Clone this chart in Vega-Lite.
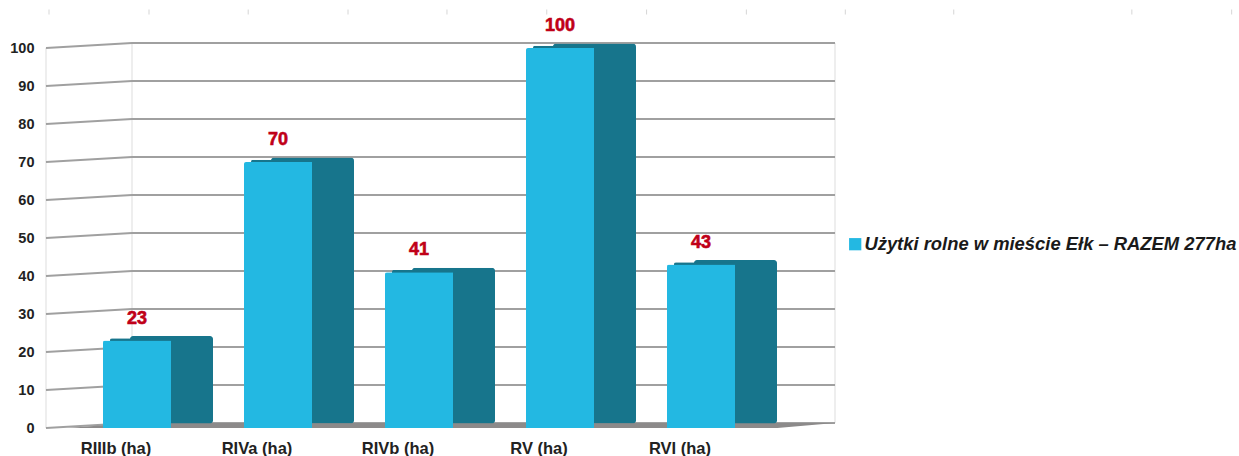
{
  "$schema": "https://vega.github.io/schema/vega-lite/v6.json",
  "width": 789,
  "height": 380,
  "padding": {"left": 46, "top": 48, "right": 404, "bottom": 28},
  "autosize": {"type": "none"},
  "background": "white",
  "view": {"stroke": null},
  "datasets": {
    "bars": [
      {"klasa": "RIIIb (ha)", "ha": 23, "seria": "Użytki rolne w mieście Ełk – RAZEM 277ha"},
      {"klasa": "RIVa (ha)", "ha": 70, "seria": "Użytki rolne w mieście Ełk – RAZEM 277ha"},
      {"klasa": "RIVb (ha)", "ha": 41, "seria": "Użytki rolne w mieście Ełk – RAZEM 277ha"},
      {"klasa": "RV (ha)", "ha": 100, "seria": "Użytki rolne w mieście Ełk – RAZEM 277ha"},
      {"klasa": "RVI (ha)", "ha": 43, "seria": "Użytki rolne w mieście Ełk – RAZEM 277ha"}
    ],
    "walls": [
      {"g": 0, "p": 0, "v": 0}, {"g": 0, "p": 1, "v": 1.3}, {"g": 0, "p": 9.17, "v": 1.3},
      {"g": 10, "p": 0, "v": 10}, {"g": 10, "p": 1, "v": 11.3}, {"g": 10, "p": 9.17, "v": 11.3},
      {"g": 20, "p": 0, "v": 20}, {"g": 20, "p": 1, "v": 21.3}, {"g": 20, "p": 9.17, "v": 21.3},
      {"g": 30, "p": 0, "v": 30}, {"g": 30, "p": 1, "v": 31.3}, {"g": 30, "p": 9.17, "v": 31.3},
      {"g": 40, "p": 0, "v": 40}, {"g": 40, "p": 1, "v": 41.3}, {"g": 40, "p": 9.17, "v": 41.3},
      {"g": 50, "p": 0, "v": 50}, {"g": 50, "p": 1, "v": 51.3}, {"g": 50, "p": 9.17, "v": 51.3},
      {"g": 60, "p": 0, "v": 60}, {"g": 60, "p": 1, "v": 61.3}, {"g": 60, "p": 9.17, "v": 61.3},
      {"g": 70, "p": 0, "v": 70}, {"g": 70, "p": 1, "v": 71.3}, {"g": 70, "p": 9.17, "v": 71.3},
      {"g": 80, "p": 0, "v": 80}, {"g": 80, "p": 1, "v": 81.3}, {"g": 80, "p": 9.17, "v": 81.3},
      {"g": 90, "p": 0, "v": 90}, {"g": 90, "p": 1, "v": 91.3}, {"g": 90, "p": 9.17, "v": 91.3},
      {"g": 100, "p": 0, "v": 100}, {"g": 100, "p": 1, "v": 101.3}, {"g": 100, "p": 9.17, "v": 101.3}
    ],
    "posts": [
      {"g": "a", "p": 0, "v": 0}, {"g": "a", "p": 0, "v": 100},
      {"g": "b", "p": 1, "v": 1.3}, {"g": "b", "p": 1, "v": 101.3},
      {"g": "c", "p": 9.17, "v": 1.3}, {"g": "c", "p": 9.17, "v": 101.3}
    ],
    "floor": [
      {"p": 0.25, "v": 0, "v0": 0},
      {"p": 1, "v": 1.3, "v0": 0},
      {"p": 8.5, "v": 1.3, "v0": 0},
      {"p": 9.17, "v": 1.3, "v0": 1.3}
    ],
    "ruler": [
      {"p": 0.035, "v": 109.5}, {"p": 1.197, "v": 109.5}, {"p": 2.35, "v": 109.5}, {"p": 3.51, "v": 109.5},
      {"p": 4.66, "v": 109.5}, {"p": 5.82, "v": 109.5}, {"p": 6.98, "v": 109.5}, {"p": 8.14, "v": 109.5},
      {"p": 9.29, "v": 109.5}, {"p": 10.55, "v": 109.5}, {"p": 12.62, "v": 109.5}, {"p": 13.78, "v": 109.5}
    ]
  },
  "layer": [
    {
      "data": {"name": "posts"},
      "mark": {"type": "line", "stroke": "#eeeeee", "strokeWidth": 2, "clip": false},
      "encoding": {
        "x": {"field": "p", "type": "quantitative", "axis": null, "scale": {"domain": [0, 9.17], "nice": false, "zero": false}},
        "y": {"field": "v", "type": "quantitative", "scale": {"domain": [0, 100], "nice": false}, "axis": {"values": [0,10,20,30,40,50,60,70,80,90,100], "labelOverlap": false, "title": null, "grid": false, "domain": false, "ticks": false, "labelPadding": 12, "labelFont": "Liberation Sans", "labelFontWeight": "bold", "labelFontSize": 14.5, "labelColor": "#222222"}},
        "detail": {"field": "g"}
      }
    },
    {
      "data": {"name": "walls"},
      "mark": {"type": "line", "stroke": "#a0a0a0", "strokeWidth": 2, "clip": false},
      "encoding": {
        "x": {"field": "p", "type": "quantitative", "axis": null, "scale": {"domain": [0, 9.17], "nice": false, "zero": false}},
        "y": {"field": "v", "type": "quantitative", "axis": null, "scale": {"domain": [0, 100], "nice": false}},
        "detail": {"field": "g"}
      }
    },
    {
      "data": {"name": "floor"},
      "mark": {"type": "area", "color": "#8c8a8a", "clip": false},
      "encoding": {
        "x": {"field": "p", "type": "quantitative", "axis": null, "scale": {"domain": [0, 9.17], "nice": false, "zero": false}},
        "y": {"field": "v", "type": "quantitative", "axis": null, "scale": {"domain": [0, 100], "nice": false}},
        "y2": {"field": "v0"}
      }
    },
    {
      "data": {"name": "ruler"},
      "mark": {"type": "tick", "orient": "vertical", "color": "#c4c4c4", "size": 5, "thickness": 1, "clip": false},
      "encoding": {
        "x": {"field": "p", "type": "quantitative", "axis": null, "scale": {"domain": [0, 9.17], "nice": false, "zero": false}},
        "y": {"field": "v", "type": "quantitative", "axis": null, "scale": {"domain": [0, 100], "nice": false}}
      }
    },
    {
      "data": {"name": "bars"},
      "mark": {"type": "bar", "color": "#17758c", "width": 83, "cornerRadius": 3, "xOffset": 34.5, "clip": false},
      "encoding": {
        "x": {"field": "klasa", "type": "nominal", "sort": null, "scale": {"type": "band", "range": [20.5, 725.5], "paddingInner": 0, "paddingOuter": 0}, "axis": {"title": null, "domain": false, "ticks": false, "labelAngle": 0, "labelOffset": -21, "labelPadding": 12, "labelFont": "Liberation Sans", "labelFontWeight": "bold", "labelFontSize": 16.5, "labelColor": "#222222"}},
        "y": {"field": "ha", "type": "quantitative", "axis": null, "scale": {"domain": [-1.2, 98.8], "nice": false, "zero": false}}
      }
    },
    {
      "data": {"name": "bars"},
      "mark": {"type": "bar", "color": "#17758c", "width": 61, "cornerRadiusTopLeft": 2, "xOffset": 3.5, "clip": false},
      "encoding": {
        "x": {"field": "klasa", "type": "nominal", "sort": null, "scale": {"type": "band", "range": [20.5, 725.5], "paddingInner": 0, "paddingOuter": 0}, "axis": null},
        "y": {"field": "ha", "type": "quantitative", "axis": null, "scale": {"domain": [-0.6, 99.4], "nice": false, "zero": false}}
      }
    },
    {
      "data": {"name": "bars"},
      "mark": {"type": "bar", "width": 68, "cornerRadiusTopLeft": 2, "clip": false},
      "encoding": {
        "x": {"field": "klasa", "type": "nominal", "sort": null, "scale": {"type": "band", "range": [20.5, 725.5], "paddingInner": 0, "paddingOuter": 0}, "axis": null},
        "y": {"field": "ha", "type": "quantitative", "axis": null, "scale": {"domain": [0, 100], "nice": false}},
        "color": {"field": "seria", "type": "nominal", "scale": {"range": ["#23b8e2"]}, "legend": {"orient": "none", "legendX": 800, "legendY": 187, "title": null, "symbolType": "square", "symbolSize": 150, "symbolStrokeWidth": 0, "labelFont": "Liberation Sans", "labelFontWeight": "bold", "labelFontStyle": "italic", "labelFontSize": 18.4, "labelColor": "#1a1a1a", "labelLimit": 420, "labelOffset": 0, "padding": 0}}
      }
    },
    {
      "data": {"name": "bars"},
      "mark": {"type": "text", "color": "#c00018", "stroke": "#c00018", "strokeWidth": 0.6, "font": "Liberation Sans", "fontWeight": "bold", "fontSize": 18, "dy": -22, "clip": false},
      "encoding": {
        "x": {"field": "klasa", "type": "nominal", "sort": null, "scale": {"type": "band", "range": [20.5, 725.5], "paddingInner": 0, "paddingOuter": 0}, "axis": null},
        "y": {"field": "ha", "type": "quantitative", "axis": null, "scale": {"domain": [0, 100], "nice": false}},
        "text": {"field": "ha", "type": "quantitative"}
      }
    }
  ],
  "resolve": {"scale": {"x": "independent", "y": "independent"}}
}
